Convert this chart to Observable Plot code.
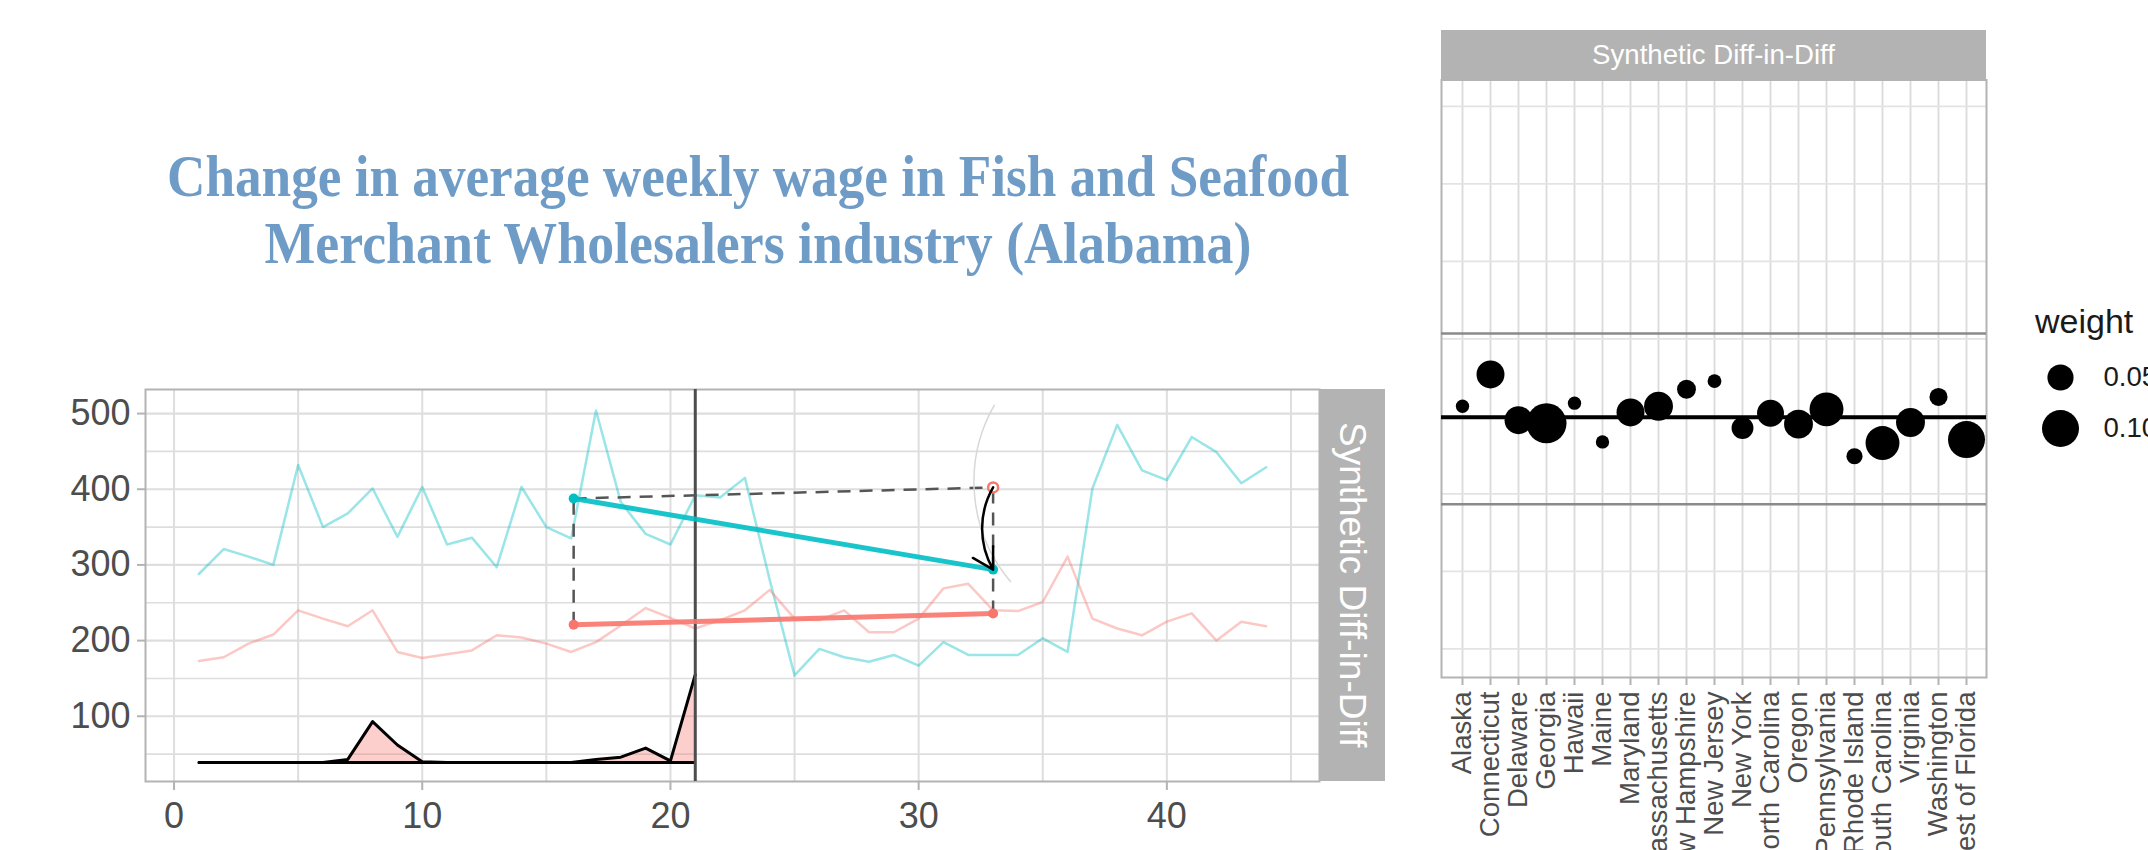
<!DOCTYPE html>
<html><head><meta charset="utf-8">
<script src="https://cdn.jsdelivr.net/npm/d3@7"></script>
<script src="https://cdn.jsdelivr.net/npm/@observablehq/plot@0.6"></script>
<style>
html,body{margin:0;padding:0;background:#fff;overflow:hidden;width:2148px;height:850px;}
#root{position:relative;width:2148px;height:850px;overflow:hidden;font-family:"Liberation Sans",Arial,sans-serif;}
#root > *{position:absolute;}
.strip{background:#b3b3b3;color:#fff;display:flex;align-items:center;justify-content:center;white-space:nowrap;}
</style></head><body><div id="root"></div>
<script>
// ---------- data ----------
const titleLines = ["Change in average weekly wage in Fish and Seafood", "Merchant Wholesalers industry (Alabama)"];
const facetLabel = "Synthetic Diff-in-Diff";
const periods = [1,2,3,4,5,6,7,8,9,10,11,12,13,14,15,16,17,18,19,20,21,22,23,24,25,26,27,28,29,30,31,32,33,34,35,36,37,38,39,40,41,42,43,44];
const treatedWage = [288,321,311,300,432,350,368,401,337,403,327,336,297,403,350,335,504,383,341,327,392,389,415,280,154,189,178,172,181,167,198,181,181,181,203,185,401,485,425,412,469,449,408,429];
const syntheticWage = [173,178,196,208,240,229,219,240,185,177,182,187,207,204,196,185,198,220,243,230,216,227,240,267,229,227,240,211,211,229,269,275,240,239,251,311,229,216,207,225,236,200,225,219];
const timeWeightLine = [39,39,39,39,39,39,43,93,62,40,39,39,39,39,39,39,43,46,58,41,155];
const timeWeightBaseline = 39;
const treatmentTime = 21;
const meanTimes = [16.1, 33];
const treatedMeans = [387.7, 293.8];
const syntheticMeans = [221, 235.7];
const xTicks = [0,10,20,30,40];
const xGrid = [0,5,10,15,20,25,30,35,40,45];
const yTicks = [100,200,300,400,500];
const yGridMinor = [50,150,250,350,450];

const states = ["Alaska","Connecticut","Delaware","Georgia","Hawaii","Maine","Maryland","Massachusetts","New Hampshire","New Jersey","New York","North Carolina","Oregon","Pennsylvania","Rhode Island","South Carolina","Virginia","Washington","West of Florida"];
const unitDifference = [-87,-46,-105,-109,-83,-133,-95,-87,-65,-54.5,-115,-96,-110,-91,-151.5,-134.5,-108,-75,-130];
const unitWeight = [0.013,0.057,0.057,0.117,0.013,0.013,0.057,0.061,0.026,0.014,0.035,0.053,0.061,0.084,0.019,0.084,0.061,0.024,0.100];
const estimate = -101.3;
const ciBounds = [7, -213.5];
const rightYGrid = [-400,-300,-200,-100,0,100,200,300];
const legendWeights = [0.05, 0.10];
const legendLabels = ["0.05", "0.10"];

// ---------- derived tables ----------
const cyan = "#00BFC4", salmon = "#F8766D";
const treatedRows = periods.map((t,i)=>({t, v: treatedWage[i]}));
const syntheticRows = periods.map((t,i)=>({t, v: syntheticWage[i]}));
const lambdaRows = timeWeightLine.map((w,i)=>({t: periods[i], w}));
const counterfactual = treatedMeans[0] + (syntheticMeans[1] - syntheticMeans[0]);
const dashedRows = [
  {x1: meanTimes[0], y1: treatedMeans[0], x2: meanTimes[1], y2: counterfactual},
  {x1: meanTimes[0], y1: syntheticMeans[0], x2: meanTimes[0], y2: treatedMeans[0]},
  {x1: meanTimes[1], y1: syntheticMeans[1], x2: meanTimes[1], y2: counterfactual}
];
const trendRows = [
  {x1: meanTimes[0], y1: treatedMeans[0], x2: meanTimes[1], y2: treatedMeans[1], c: cyan},
  {x1: meanTimes[0], y1: syntheticMeans[0], x2: meanTimes[1], y2: syntheticMeans[1], c: salmon}
];
const meanDots = [
  {t: meanTimes[0], v: treatedMeans[0], c: cyan}, {t: meanTimes[1], v: treatedMeans[1], c: cyan},
  {t: meanTimes[0], v: syntheticMeans[0], c: salmon}, {t: meanTimes[1], v: syntheticMeans[1], c: salmon}
];
const unitRows = states.map((s,i)=>({state: s, diff: unitDifference[i], weight: unitWeight[i]}));

const root = document.getElementById("root");

// ---------- title ----------
const ns = "http://www.w3.org/2000/svg";
const tsvg = document.createElementNS(ns, "svg");
tsvg.setAttribute("width", 1500); tsvg.setAttribute("height", 300);
tsvg.style.left = "0px"; tsvg.style.top = "0px";
[[196, 1182], [263, 987]].forEach(([y, len], i) => {
  const t = document.createElementNS(ns, "text");
  t.setAttribute("x", 758); t.setAttribute("y", y);
  t.setAttribute("text-anchor", "middle");
  t.setAttribute("textLength", len); t.setAttribute("lengthAdjust", "spacingAndGlyphs");
  t.setAttribute("font-family", "Liberation Serif, Times New Roman, serif");
  t.setAttribute("font-weight", "bold"); t.setAttribute("font-size", 60);
  t.setAttribute("fill", "#6f9cc7");
  t.textContent = titleLines[i];
  tsvg.appendChild(t);
});
root.appendChild(tsvg);

// ---------- left panel ----------
const left = Plot.plot({
  width: 1400, height: 850,
  marginLeft: 145, marginRight: 81, marginTop: 389, marginBottom: 69,
  x: {domain: [-1.15, 46.15]},
  y: {domain: [13.8, 531.8]},
  style: {fontFamily: "Liberation Sans, Arial, sans-serif", background: "transparent"},
  marks: [
    Plot.gridX(xGrid, {stroke: "#dedede", strokeOpacity: 1, strokeWidth: 2}),
    Plot.gridY(yGridMinor, {stroke: "#dedede", strokeOpacity: 1, strokeWidth: 1.6}),
    Plot.gridY(yTicks, {stroke: "#dedede", strokeOpacity: 1, strokeWidth: 2.2}),
    Plot.frame({stroke: "#b3b3b3", strokeWidth: 2}),
    Plot.areaY(lambdaRows, {x: "t", y1: timeWeightBaseline, y2: "w", fill: salmon, fillOpacity: 0.35}),
    Plot.ruleY([timeWeightBaseline], {x1: periods[0], x2: treatmentTime, stroke: "black", strokeWidth: 3}),
    Plot.line(lambdaRows, {x: "t", y: "w", stroke: "black", strokeWidth: 3}),
    Plot.line(treatedRows, {x: "t", y: "v", stroke: cyan, strokeOpacity: 0.4, strokeWidth: 2.5}),
    Plot.line(syntheticRows, {x: "t", y: "v", stroke: salmon, strokeOpacity: 0.4, strokeWidth: 2.5}),
    Plot.ruleX([treatmentTime], {stroke: "#4d4d4d", strokeWidth: 3}),
    Plot.link(dashedRows, {x1: "x1", y1: "y1", x2: "x2", y2: "y2", stroke: "#555", strokeWidth: 2.5, strokeDasharray: "13,9"}),
    Plot.link(trendRows, {x1: "x1", y1: "y1", x2: "x2", y2: "y2", stroke: "c", strokeWidth: 5, strokeOpacity: 0.9}),
    Plot.dot(meanDots, {x: "t", y: "v", fill: "c", r: 5}),
    Plot.dot([{t: meanTimes[1], v: counterfactual}], {x: "t", y: "v", fill: "white", stroke: salmon, strokeWidth: 2.5, r: 5}),
    Plot.arrow([{x1: meanTimes[1] + 0.05, y1: 511, x2: meanTimes[1] + 0.7, y2: 278}], {x1: "x1", y1: "y1", x2: "x2", y2: "y2", bend: -35, headLength: 0, stroke: "#d8d8d8", strokeWidth: 1.5}),
    Plot.arrow([{x1: meanTimes[1], y1: counterfactual, x2: meanTimes[1], y2: treatedMeans[1]}], {x1: "x1", y1: "y1", x2: "x2", y2: "y2", bend: -30, headLength: 14, stroke: "black", strokeWidth: 2.5}),
    Plot.axisX({ticks: xTicks, tickSize: 9, tickPadding: 12, fontSize: 36, color: "#4d4d4d", stroke: "#b3b3b3", strokeWidth: 2, label: null}),
    Plot.axisY({ticks: yTicks, tickSize: 8, tickPadding: 7, fontSize: 36, color: "#4d4d4d", stroke: "#b3b3b3", strokeWidth: 2, label: null})
  ]
});
left.style.left = "0px"; left.style.top = "0px";
root.appendChild(left);

const lstrip = document.createElement("div");
lstrip.className = "strip";
Object.assign(lstrip.style, {left: "1319px", top: "389px", width: "66px", height: "392px", fontSize: "37px", writingMode: "vertical-rl"});
lstrip.textContent = facetLabel;
root.appendChild(lstrip);

// ---------- right panel ----------
const right = Plot.plot({
  width: 748, height: 850,
  marginLeft: 41, marginRight: 162, marginTop: 79.5, marginBottom: 173,
  x: {type: "point", domain: states, padding: 0.6},
  y: {domain: [-437, 334], axis: null},
  r: {domain: [0, 0.1], range: [0, 18.5]},
  style: {fontFamily: "Liberation Sans, Arial, sans-serif", background: "transparent"},
  marks: [
    Plot.gridX({stroke: "#dadada", strokeOpacity: 1, strokeWidth: 1.8}),
    Plot.gridY(rightYGrid, {stroke: "#e3e3e3", strokeOpacity: 1, strokeWidth: 1.8}),
    Plot.frame({stroke: "#b3b3b3", strokeWidth: 2}),
    Plot.ruleY(ciBounds, {stroke: "#8a8a8a", strokeWidth: 2.5}),
    Plot.ruleY([estimate], {stroke: "black", strokeWidth: 4}),
    Plot.dot(unitRows, {x: "state", y: "diff", r: "weight", fill: "black"}),
    Plot.axisX({tickRotate: -90, tickSize: 8, tickPadding: 6, fontSize: 27.6, color: "#4d4d4d", stroke: "#b3b3b3", strokeWidth: 2, label: null})
  ]
});
right.style.left = "1400px"; right.style.top = "0px";
root.appendChild(right);

const rstrip = document.createElement("div");
rstrip.className = "strip";
Object.assign(rstrip.style, {left: "1441px", top: "30px", width: "545px", height: "50px", fontSize: "27.6px"});
rstrip.textContent = facetLabel;
root.appendChild(rstrip);

// ---------- size legend ----------
const ltitle = document.createElement("div");
Object.assign(ltitle.style, {left: "2035px", top: "302px", fontSize: "34px", color: "#1a1a1a"});
ltitle.textContent = "weight";
root.appendChild(ltitle);

const legend = Plot.plot({
  width: 148, height: 200,
  margin: 0,
  x: {domain: [0, 1], range: [60, 103], axis: null},
  y: {type: "point", domain: legendLabels, range: [77, 128], padding: 0, axis: null},
  r: {domain: [0, 0.1], range: [0, 18.5]},
  style: {fontFamily: "Liberation Sans, Arial, sans-serif", background: "transparent", overflow: "hidden"},
  marks: [
    Plot.dot(legendWeights, {x: 0, y: (d, i) => legendLabels[i], r: d => d, fill: "black"}),
    Plot.text(legendLabels, {x: 1, y: d => d, text: d => d, textAnchor: "start", fontSize: 27.6, fill: "#1a1a1a"})
  ]
});
legend.style.left = "2000px"; legend.style.top = "300px";
root.appendChild(legend);
</script>
</body></html>
